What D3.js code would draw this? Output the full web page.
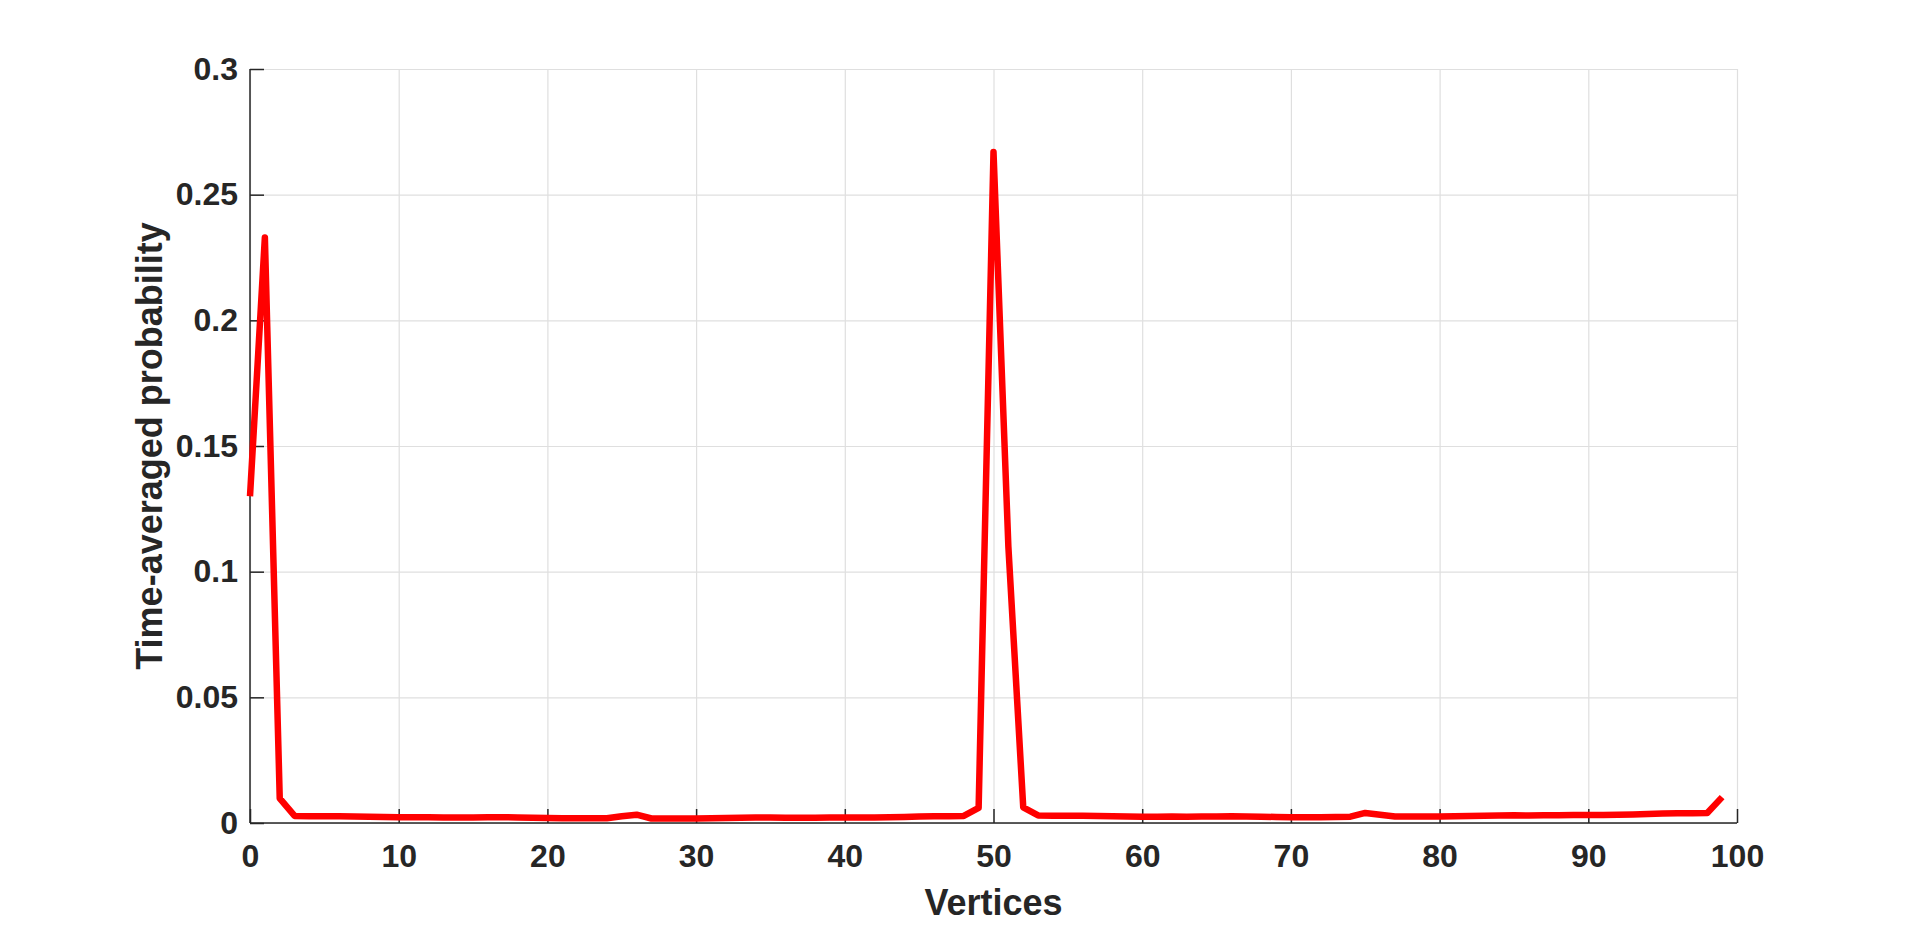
<!doctype html>
<html lang="en">
<head>
    <meta charset="UTF-8">
    <title>Time-averaged probability</title>
    <style>
        body {
            margin: 0;
            background: #fff;
        }

        .chart {
            display: block;
        }

        .axis text {
            font: bold 32px "Liberation Sans", Arial, sans-serif;
            fill: #262626;
        }

        .axis path,
        .axis line {
            fill: none;
            stroke: #262626;
            stroke-width: 1.5;
        }

        .grid line {
            stroke: #dfdfdf;
            stroke-width: 1.2;
        }

        .grid path {
            display: none;
        }

        .label {
            font: bold 36px "Liberation Sans", Arial, sans-serif;
            fill: #262626;
        }

        .line {
            fill: none;
            stroke: #ff0000;
            stroke-width: 6.5;
            stroke-linejoin: round;
        }
    </style>
</head>

<body>
<svg class="chart"></svg>
</body>

<script src="https://d3js.org/d3.v7.min.js" charset="utf-8"></script>
<script>
    // vertices 0..99
    var vertices = d3.range(0, 100);

    var probability = [
        0.130, 0.233, 0.0098, 0.0028, 0.0027, 0.0027, 0.0027, 0.0026, 0.0025, 0.0024,
        0.0023, 0.0023, 0.0023, 0.0022, 0.0022, 0.0022, 0.0023, 0.0023, 0.0022, 0.0021,
        0.0020, 0.0019, 0.0019, 0.0019, 0.0019, 0.0027, 0.0033, 0.0018, 0.0018, 0.0018,
        0.0018, 0.0019, 0.0020, 0.0021, 0.0022, 0.0022, 0.0021, 0.0021, 0.0021, 0.0022,
        0.0022, 0.0022, 0.0022, 0.0023, 0.0024, 0.0026, 0.0027, 0.0027, 0.0028, 0.0060,
        0.267, 0.110, 0.0062, 0.0030, 0.0029, 0.0029, 0.0029, 0.0028, 0.0027, 0.0026,
        0.0025, 0.0025, 0.0026, 0.0025, 0.0026, 0.0026, 0.0027, 0.0026, 0.0025, 0.0024,
        0.0023, 0.0023, 0.0023, 0.0024, 0.0025, 0.0040, 0.0033, 0.0026, 0.0026, 0.0026,
        0.0026, 0.0027, 0.0028, 0.0029, 0.0030, 0.0031, 0.0030, 0.0031, 0.0031, 0.0032,
        0.0032, 0.0032, 0.0033, 0.0034, 0.0036, 0.0038, 0.0039, 0.0039, 0.0040, 0.0103
    ];

    var xTicks = [0, 10, 20, 30, 40, 50, 60, 70, 80, 90, 100];
    var yTicks = [0, 0.05, 0.1, 0.15, 0.2, 0.25, 0.3];
    var yTickLabels = ["0", "0.05", "0.1", "0.15", "0.2", "0.25", "0.3"];

    var totalWidth = 1920, totalHeight = 926;
    var margin = {top: 69, right: 183, bottom: 103, left: 250};
    var width = totalWidth - margin.left - margin.right;
    var height = totalHeight - margin.top - margin.bottom;

    var x = d3.scaleLinear().domain([0, 100]).range([0, width]);
    var y = d3.scaleLinear().domain([0, 0.3]).range([height, 0]);

    var svg = d3.select(".chart")
        .attr("width", totalWidth)
        .attr("height", totalHeight);

    var g = svg.append("g")
        .attr("transform", "translate(" + margin.left + "," + margin.top + ")");

    // grid
    g.append("g").attr("class", "grid")
        .attr("transform", "translate(0," + height + ")")
        .call(d3.axisBottom(x).tickValues(xTicks).tickSize(-height).tickFormat(""));

    g.append("g").attr("class", "grid")
        .call(d3.axisLeft(y).tickValues(yTicks).tickSize(-width).tickFormat(""));

    // x-axis (ticks point inward)
    var xAxis = g.append("g").attr("class", "x axis")
        .attr("transform", "translate(0," + height + ")")
        .call(d3.axisBottom(x).tickValues(xTicks).tickSizeInner(-14).tickSizeOuter(0).tickPadding(21));
    xAxis.select(".domain").attr("d", "M0,0H" + width);
    xAxis.selectAll("text").attr("dy", "0.71em");

    // y-axis
    var yAxis = g.append("g").attr("class", "y axis")
        .call(d3.axisLeft(y).tickValues(yTicks)
            .tickFormat(function(d, i) { return yTickLabels[i]; })
            .tickSizeInner(-14).tickSizeOuter(0).tickPadding(12));
    yAxis.select(".domain").attr("d", "M0," + height + "V0");

    // x-axis title
    g.append("text")
        .attr("class", "label")
        .attr("x", width / 2)
        .attr("y", height + 92)
        .attr("text-anchor", "middle")
        .text("Vertices");

    // y-axis title
    g.append("text")
        .attr("class", "label")
        .attr("transform", "translate(" + -88 + "," + height / 2 + ") rotate(-90)")
        .attr("text-anchor", "middle")
        .text("Time-averaged probability");

    // line
    var line = d3.line()
        .x(function(d, i) { return x(vertices[i]); })
        .y(function(d) { return y(d); });

    g.append("path")
        .datum(probability)
        .attr("class", "line")
        .attr("d", line);
</script>
</html>
